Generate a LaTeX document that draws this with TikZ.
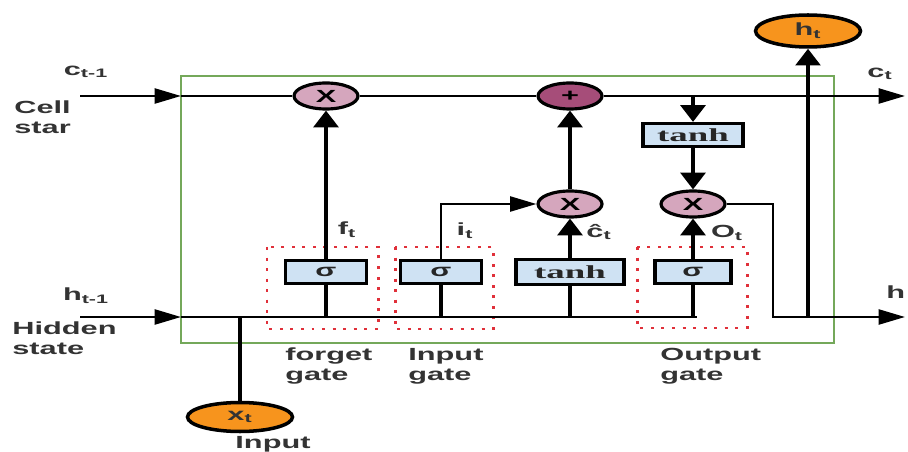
\documentclass[tikz,border=0pt]{standalone}
\usepackage{fontspec}
\setmainfont{Liberation Sans}[FakeStretch=1.75]
\newfontfamily\actfont{Liberation Serif}[FakeStretch=2.0]
\usetikzlibrary{arrows.meta,shapes.geometric}
\definecolor{mulpink}{HTML}{D5A6BD}
\definecolor{addpurple}{HTML}{A64D79}
\definecolor{boxblue}{HTML}{CFE2F3}
\definecolor{stateorange}{HTML}{F7941D}
\definecolor{framegreen}{HTML}{74A85A}
\definecolor{dotred}{HTML}{E0303A}
\begin{document}
\begin{tikzpicture}[x=0.02cm, y=-0.02cm,
  every node/.style={font=\fontsize{10}{11.5}\selectfont\bfseries, text=black!80},
  mul/.style={ellipse, draw, line width=1.8pt, fill=mulpink, minimum width=1.28cm, minimum height=0.52cm, inner sep=0pt, text=black},
  addop/.style={mul, fill=addpurple},
  actbox/.style={rectangle, draw, line width=1.8pt, fill=boxblue, minimum height=0.46cm, inner sep=0pt, text=black!85, font=\actfont\fontsize{10.5}{11}\selectfont\bfseries},
  sigbox/.style={actbox, minimum width=1.62cm, font=\fontsize{10}{10}\selectfont\bfseries},
  state/.style={ellipse, draw, line width=2pt, fill=stateorange, minimum width=2.1cm, minimum height=0.64cm, inner sep=0pt},
  wire/.style={line width=1.5pt},
  harrow/.style={wire, -{Triangle[length=15pt,width=8.5pt]}},
  varrow/.style={line width=2.2pt, -{Triangle[length=9.5pt,width=14pt]}},
  gategroup/.style={draw=dotred, line width=1.7pt, dash pattern=on 1.7pt off 4.3pt},
  lbl/.style={align=left, anchor=west, inner sep=0pt}]
  \useasboundingbox (0,0) rectangle (908,452);

  % cell frame and gate groups
  \draw[framegreen, line width=1.5pt] (181,76) rectangle (834,343);
  \draw[gategroup] (267,247) rectangle (378,329);
  \draw[gategroup] (395,247) rectangle (493,329);
  \draw[gategroup] (637,247) rectangle (747,328);

  % operations
  \node[mul] (mulF) at (326,96) {X};
  \node[addop] (addC) at (570,96) {+};
  \node[actbox, minimum width=2cm] (tanhC) at (693,135) {tanh};
  \node[mul] (mulI) at (570,204) {X};
  \node[mul] (mulO) at (693,204) {X};

  \node[sigbox] (sigF) at (326,272) {σ};
  \node[sigbox] (sigI) at (441,272) {σ};
  \node[actbox, minimum width=2.16cm, minimum height=0.5cm] (tanhI) at (570,272) {tanh};
  \node[sigbox, minimum width=1.52cm] (sigO) at (693,272) {σ};

  \node[state] (hT) at (808,31) {h\textsubscript{t}};
  \node[state, minimum height=0.58cm] (xT) at (240,417) {x\textsubscript{t}};

  % points on the lines
  \coordinate (cin) at (80,96);
  \coordinate (cbox) at (181,96);
  \coordinate (cout) at (905,96);
  \coordinate (ctap) at (693,96);
  \coordinate (hin) at (80,317);
  \coordinate (hbox) at (181,317);
  \coordinate (hend) at (697,317);
  \coordinate (tapX) at (240,317);
  \coordinate (tapF) at (326,317);
  \coordinate (tapI) at (441,317);
  \coordinate (tapT) at (570,317);
  \coordinate (tapO) at (693,317);
  \coordinate (obend) at (773,317);
  \coordinate (htap) at (808,317);
  \coordinate (hout) at (905,317);

  % cell state
  \draw[harrow] (cin) -- (cbox);
  \draw[wire] (cbox) -- (mulF);
  \draw[wire] (mulF) -- (addC);
  \draw[harrow] (addC) -- (cout);
  \draw[varrow] (ctap) -- (tanhC);
  \draw[varrow] (tanhC) -- (mulO);

  % hidden state
  \draw[harrow] (hin) -- (hbox);
  \draw[wire] (hbox) -- (hend);
  \draw[line width=2.2pt] (xT) -- (tapX);
  \draw[line width=2.2pt] (tapF) -- (sigF);
  \draw[varrow] (sigF) -- (mulF);
  \draw[line width=2.2pt] (tapI) -- (sigI);
  \draw[harrow] (sigI.north) |- (mulI.west);
  \draw[line width=2.2pt] (tapT) -- (tanhI);
  \draw[varrow] (tanhI) -- (mulI);
  \draw[varrow] (mulI) -- (addC);
  \draw[line width=2.2pt] (tapO) -- (sigO);
  \draw[varrow] (sigO) -- (mulO);
  \draw[harrow] (mulO.east) -| (obend) -- (hout);
  \draw[varrow] (htap) -- (hT);

  % labels
  \node at (86,72) {c\textsubscript{t-1}};
  \node[lbl] at (14,117) {Cell\\star};
  \node at (86,296) {h\textsubscript{t-1}};
  \node[lbl] at (12,338) {Hidden\\state};
  \node at (880,74) {c\textsubscript{t}};
  \node[lbl] at (886,292) {h};
  \node at (347,230) {f\textsubscript{t}};
  \node at (465,231) {i\textsubscript{t}};
  \node at (599,232) {ĉ\textsubscript{t}};
  \node at (727,233) {O\textsubscript{t}};
  \node[lbl] at (285,366) {forget\\gate};
  \node[lbl] at (408,366) {Input\\gate};
  \node[lbl] at (660,366) {Output\\gate};
  \node at (273,444) {Input};
\end{tikzpicture}
\end{document}
